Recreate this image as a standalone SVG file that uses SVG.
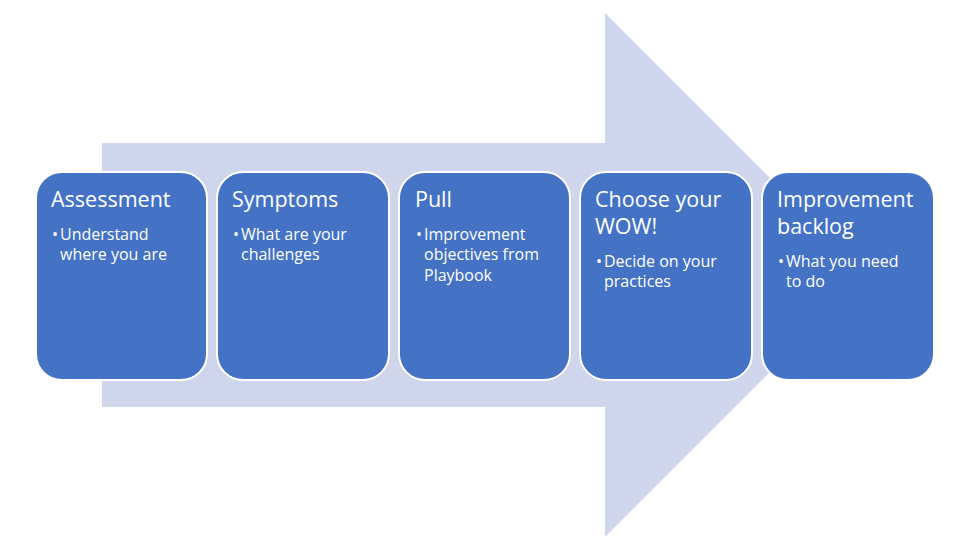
<svg xmlns="http://www.w3.org/2000/svg" width="971" height="551" viewBox="0 0 971 551">
<style>
.box{fill:#4472C4;stroke:#FFFFFF;stroke-width:2}
.t{font-family:"Open Sans","Noto Sans","DejaVu Sans",sans-serif;fill:#FFFFFF}
.h{font-size:21.5px}
.b{font-size:16px}
</style>
<rect width="971" height="551" fill="#FFFFFF"/>
<g id="arrow">
<polygon points="102,143 605,143 605,13 867,275 605,537 605,407 102,407" fill="#CFD5EA"/>
</g>
<g id="assessment">
<rect class="box" x="36" y="172" width="171" height="208" rx="26"/>
<text class="t h" x="51" y="207">Assessment</text>
<text class="t b" x="52" y="240">•</text>
<text class="t b" x="60" y="240">Understand</text>
<text class="t b" x="60" y="260">where you are</text>
</g>
<g id="symptoms">
<rect class="box" x="217" y="172" width="172" height="208" rx="26"/>
<text class="t h" x="232" y="207">Symptoms</text>
<text class="t b" x="233" y="240">•</text>
<text class="t b" x="241" y="240">What are your</text>
<text class="t b" x="241" y="260">challenges</text>
</g>
<g id="pull">
<rect class="box" x="399" y="172" width="171" height="208" rx="26"/>
<text class="t h" x="415" y="207">Pull</text>
<text class="t b" x="416" y="240">•</text>
<text class="t b" x="424" y="240">Improvement</text>
<text class="t b" x="424" y="260">objectives from</text>
<text class="t b" x="424" y="281">Playbook</text>
</g>
<g id="choose">
<rect class="box" x="580" y="172" width="172" height="208" rx="26"/>
<text class="t h" x="595" y="207">Choose your</text>
<text class="t h" x="595" y="234">WOW!</text>
<text class="t b" x="596" y="267">•</text>
<text class="t b" x="604" y="267">Decide on your</text>
<text class="t b" x="604" y="287">practices</text>
</g>
<g id="backlog">
<rect class="box" x="762" y="172" width="172" height="208" rx="26"/>
<text class="t h" x="777" y="207">Improvement</text>
<text class="t h" x="777" y="234">backlog</text>
<text class="t b" x="778" y="267">•</text>
<text class="t b" x="786" y="267">What you need</text>
<text class="t b" x="786" y="287">to do</text>
</g>
<g id="connectors"></g>
</svg>
